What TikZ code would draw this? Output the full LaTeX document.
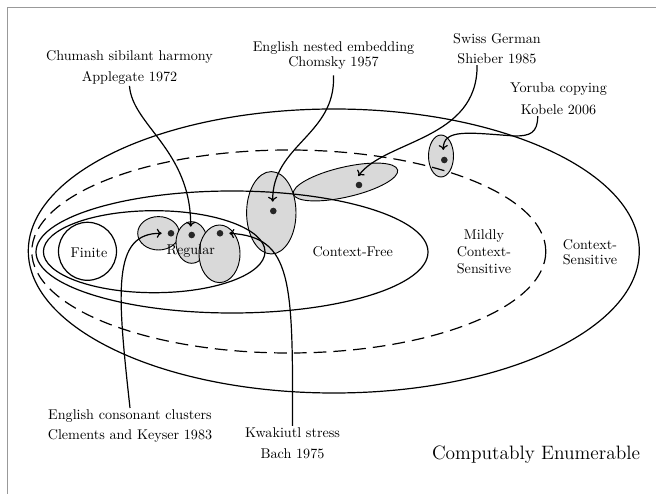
\documentclass[tikz,border=0pt]{standalone}
\usetikzlibrary{arrows.meta}
\begin{document}
\begin{tikzpicture}[x=0.707pt,y=-0.707pt,
  cls/.style={line width=0.85pt},
  dashcls/.style={line width=0.85pt, dash pattern=on 9pt off 5pt},
  blob/.style={draw, line width=0.65pt, fill=black!15},
  lbl/.style={align=center, inner sep=1pt, font=\fontsize{10}{12}\selectfont},
  conn/.style={-{To[length=3.5pt,width=6.5pt]}, line width=0.85pt},
  dotmark/.style={fill=black!85},
  framestyle/.style={draw=black!40, line width=1pt}]
\useasboundingbox (0,0) rectangle (656,494);
\draw[framestyle] (7.5,494) -- (7.5,7.5) -- (656,7.5);
% grey sample regions
\draw[blob] (158.5,233.3) ellipse [x radius=20.8, y radius=16.7];
\draw[blob] (191.7,242.5) ellipse [x radius=15.7, y radius=20.8];
\draw[blob] (219.5,253.8) ellipse [x radius=20.5, y radius=28.8];
\draw[blob] (271.3,212.8) ellipse [x radius=24.7, y radius=41.2];
\draw[blob, rotate around={13:(345.5,182)}] (345.5,182) ellipse [x radius=53.5, y radius=15];
\draw[blob] (441,156) ellipse [x radius=12.5, y radius=21];
% language classes
\draw[cls] (333.8,251) ellipse [x radius=305.5, y radius=142];
\draw[dashcls] (288.8,251.5) ellipse [x radius=257, y radius=101.5];
\draw[cls] (232,252) ellipse [x radius=196, y radius=61];
\draw[cls] (154.2,251.7) ellipse [x radius=110.8, y radius=41];
\draw[cls] (87.5,251.3) circle [radius=29];
% class names
\node[lbl] (tfin) at (89,252.5) {Finite};
\node[lbl] (treg) at (190.8,251) {Regular};
\node[lbl] (tcf) at (352.7,252) {Context-Free};
\node[lbl] (tmcs) at (484,252) {Mildly\\Context-\\Sensitive};
\node[lbl] (tcs) at (590,252.5) {Context-\\[-1.4pt]Sensitive};
\node[font=\fontsize{13.7}{16}\selectfont] (tce) at (536,455) {Computably Enumerable};
% dots
\fill[dotmark] (171,233.3) circle [radius=3.3];
\fill[dotmark] (191.7,235) circle [radius=3.3];
\fill[dotmark] (220,233.3) circle [radius=3.3];
\fill[dotmark] (273.3,211) circle [radius=3.3];
\fill[dotmark] (359,185) circle [radius=3.3];
\fill[dotmark] (444.3,160) circle [radius=3.3];
% labels
\node[lbl] (lchum) at (129.5,67.5) {Chumash sibilant harmony\\[2.4pt]Applegate 1972};
\node[lbl] (lnest) at (333.5,55.4) {English nested embedding\\[-1pt]Chomsky 1957};
\node[lbl] (lswiss) at (497,48.3) {Swiss German\\[2.1pt]Shieber 1985};
\node[lbl] (lyor) at (558.5,98.3) {Yoruba copying\\[3.6pt]Kobele 2006};
\node[lbl] (lcons) at (130,426) {English consonant clusters\\[2.1pt]Clements and Keyser 1983};
\node[lbl] (lkwak) at (292.5,443.3) {Kwakiutl stress\\[3pt]Bach 1975};
% arrow targets
\coordinate (achum) at (190.7,226.7);
\coordinate (anest) at (272.7,201.7);
\coordinate (aswiss) at (358.3,176);
\coordinate (ayormid) at (515,136);
\coordinate (ayor) at (443.3,150);
\coordinate (acons) at (161.7,233.3);
\coordinate (akwak) at (229.3,233.3);
% connectors
\draw[conn] (lchum.south) .. controls (132,125) and (191,150) .. (achum);
\draw[conn] ([yshift=-3pt]lnest.south) .. controls (336,135) and (272,145) .. (anest);
\draw[conn] ([xshift=-14.1pt]lswiss.south) .. controls (478,140) and (385,140) .. (aswiss);
\draw[conn] ([xshift=-14.7pt]lyor.south) .. controls (537.7,133) and (530,136) .. (ayormid)
  .. controls (470,133) and (443,128) .. (ayor);
\draw[conn] (lcons.north) .. controls (117,290) and (112,233) .. (acons);
\draw[conn] (lkwak.north) .. controls (293,280) and (292,237) .. (akwak);
\end{tikzpicture}
\end{document}
